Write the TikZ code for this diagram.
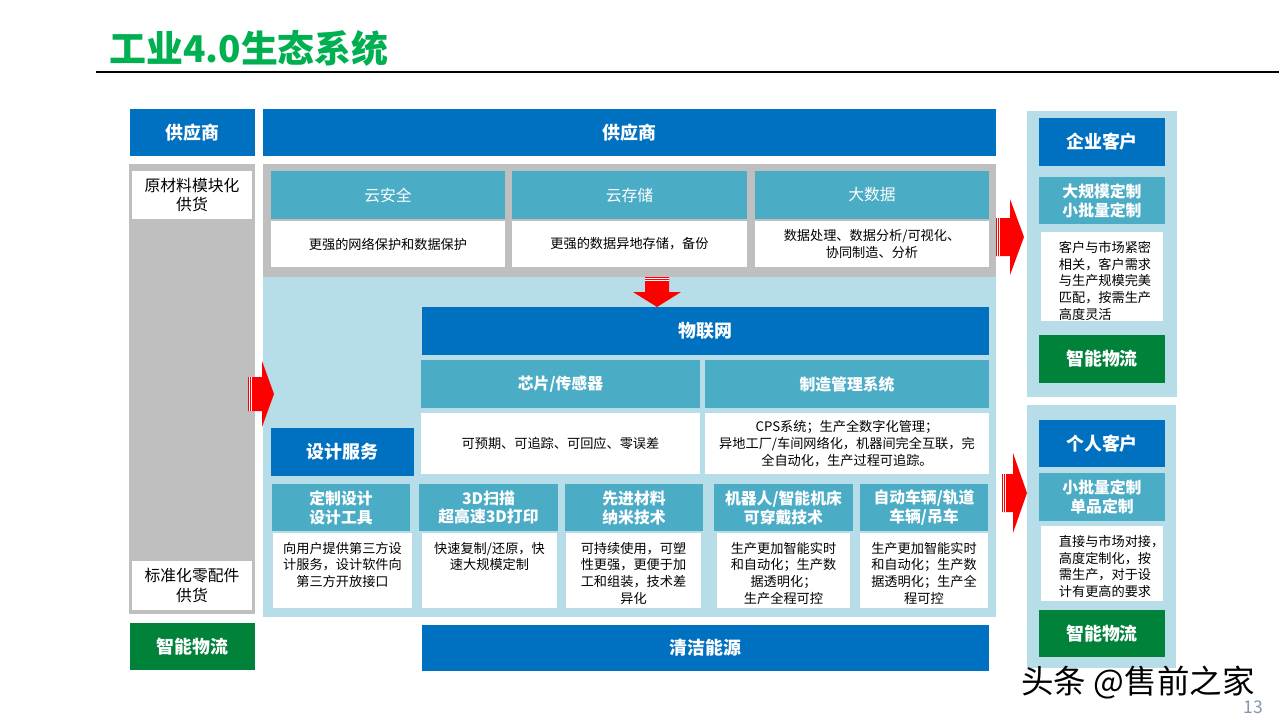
\documentclass[tikz,border=0pt]{standalone}
\usepackage{fontspec}
\setmainfont{Noto Sans CJK SC}
\usetikzlibrary{positioning}

\definecolor{ppblue}{HTML}{0070C0}
\definecolor{ppteal}{HTML}{4BACC6}
\definecolor{pplight}{HTML}{B7DDE8}
\definecolor{ppgray}{HTML}{BFBFBF}
\definecolor{ppgreen}{HTML}{00823B}
\definecolor{titlegreen}{HTML}{00B050}
\definecolor{pagegray}{HTML}{8497B0}

\tikzset{
  wh/.style 2 args={minimum width=#1*0.02cm, minimum height=#2*0.02cm},
  cell/.style={inner sep=0pt, outer sep=0pt, align=center},
  bluebox/.style={cell, fill=ppblue, text=white, font=\fontsize{10.2}{12}\selectfont\bfseries},
  greenbox/.style={cell, fill=ppgreen, text=white, font=\fontsize{10.2}{12}\selectfont\bfseries},
  tealbox/.style={cell, fill=ppteal, text=white, font=\fontsize{9}{10.8}\selectfont\bfseries},
  cloudbox/.style={cell, fill=ppteal, text=white, font=\fontsize{9}{10.8}\selectfont},
  whitebox/.style={cell, fill=white, font=\fontsize{7.5}{9.5}\selectfont},
  panel/.style={cell, fill=#1},
  note/.style={inner sep=0pt, align=center, font=\fontsize{7.5}{9.5}\selectfont},
  stripe/.style={draw=white, line width=0.3pt},
}

\begin{document}
\begin{tikzpicture}[x=0.02cm,y=-0.02cm]
    \useasboundingbox (0,0) rectangle (1279,720);
    % title
    \node[anchor=west, inner sep=0pt, text=titlegreen,
        font=\fontsize{21}{24}\selectfont\bfseries] (title) at (109,48) {工业4.0生态系统};
    \draw[line width=0.8pt] (96,72) -- (1279,72);
    %% suppliers column
    \node[bluebox, wh={125}{47}] (supL) at (192.5,132.5) {供应商};
    \node[panel=ppgray, wh={126}{450}] (leftcol) at (192,389) {};
    \node[whitebox, font=\fontsize{9}{11.3}\selectfont, wh={120}{48}] (raw) at (192,195) {原材料模块化\\供货};
    \node[whitebox, font=\fontsize{9}{11.3}\selectfont, wh={120}{49}] (std) at (192,585.5) {标准化零配件\\供货};
    \node[greenbox, wh={125}{47}] (logL) at (192.5,646.5) {智能物流};
    %% cloud layer
    \node[bluebox, wh={733}{47}] (supT) at (629.5,132.5) {供应商};
    \node[panel=ppgray, wh={733}{113}] (cloud) at (629.5,220.5) {};
    \node[cloudbox, wh={234}{48}] (sec) at (388,195) {云安全};
    \node[whitebox, wh={234}{46}] (secw) at (388,244) {更强的网络保护和数据保护};
    \node[cloudbox, wh={235}{48}] (sto) at (629.5,195) {云存储};
    \node[whitebox, wh={235}{46}] (stow) at (629.5,244) {更强的数据异地存储，备份};
    \node[cloudbox, wh={234}{48}] (big) at (872,195) {大数据};
    \node[whitebox, wh={234}{46}] (bigw) at (872,244) {数据处理、数据分析/可视化、\\协同制造、分析};
    %% platform
    \node[panel=pplight, wh={733}{340}] (plat) at (629.5,447) {};
    \node[bluebox, wh={567}{48}] (iot) at (705.5,331) {物联网};
    \node[tealbox, wh={279}{48}] (chip) at (560.5,384) {芯片/传感器};
    \node[whitebox, wh={279}{61}] (chipw) at (560.5,443.5) {可预期、可追踪、可回应、零误差};
    \node[tealbox, wh={284}{48}] (mes) at (847,384) {制造管理系统};
    \node[whitebox, wh={284}{61}] (mesw) at (847,443.5) {CPS系统；生产全数字化管理；\\异地工厂/车间网络化，机器间完全互联，完\\全自动化，生产过程可追踪。};
    \node[bluebox, wh={143}{48}] (design) at (342.5,452) {设计服务};
    %% technologies
    \node[tealbox, wh={138}{47}] (cd) at (341,507.5) {定制设计\\设计工具};
    \node[whitebox, wh={139}{75}] (cdw) at (342.5,570.5) {};
    \node[note, anchor=north] at ([yshift=-5]cdw.north) {向用户提供第三方设\\计服务，设计软件向\\第三方开放接口};
    \node[tealbox, wh={139}{47}] (scan) at (488.5,507.5) {3D扫描\\超高速3D打印};
    \node[whitebox, wh={135}{75}] (scanw) at (489.5,570.5) {};
    \node[note, anchor=north] at ([yshift=-5]scanw.north) {快速复制/还原，快\\速大规模定制};
    \node[tealbox, wh={138}{47}] (mat) at (634,507.5) {先进材料\\纳米技术};
    \node[whitebox, wh={135}{75}] (matw) at (633.5,570.5) {};
    \node[note, anchor=north] at ([yshift=-5]matw.north) {可持续使用，可塑\\性更强，更便于加\\工和组装，技术差\\异化};
    \node[tealbox, wh={139}{47}] (rob) at (783.5,507.5) {机器人/智能机床\\可穿戴技术};
    \node[whitebox, wh={133}{75}] (robw) at (783.5,570.5) {};
    \node[note, anchor=north] at ([yshift=-5]robw.north) {生产更加智能实时\\和自动化；生产数\\据透明化；\\生产全程可控};
    \node[tealbox, wh={128}{47}] (veh) at (924,507.5) {自动车辆/轨道\\车辆/吊车};
    \node[whitebox, wh={128}{75}] (vehw) at (924,570.5) {};
    \node[note, anchor=north] at ([yshift=-5]vehw.north) {生产更加智能实时\\和自动化；生产数\\据透明化；生产全\\程可控};
    \node[bluebox, wh={567}{46}] (clean) at (705.5,648) {清洁能源};
    %% customers
    \node[panel=pplight, wh={150}{286}] (entp) at (1102,254) {};
    \node[bluebox, wh={126}{48}] (ent) at (1102,142) {企业客户};
    \node[tealbox, wh={126}{47}] (entm) at (1102,200.5) {大规模定制\\小批量定制};
    \node[whitebox, wh={122}{89}] (entw) at (1102,276.5) {};
    \node[note, align=left, anchor=north west] at ([xshift=10,yshift=-5]entw.north west) {客户与市场紧密\\相关，客户需求\\与生产规模完美\\匹配，按需生产\\高度灵活};
    \node[greenbox, wh={126}{48}] (entl) at (1102,359) {智能物流};
    \node[panel=pplight, wh={149}{263}] (perp) at (1101.5,536.5) {};
    \node[bluebox, wh={126}{47}] (per) at (1102,443.5) {个人客户};
    \node[tealbox, wh={126}{48}] (perm) at (1102,497) {小批量定制\\单品定制};
    \node[whitebox, wh={122}{75}] (perw) at (1102,563.5) {};
    \node[note, align=left, anchor=north west] at ([xshift=10,yshift=-5]perw.north west) {直接与市场对接，\\高度定制化，按\\需生产，对于设\\计有更高的要求};
    \node[greenbox, wh={126}{47}] (perl) at (1102,633.5) {智能物流};
    %% red arrows
    \fill[red] (248,377) -- (262,377) -- (262,361) -- (274,394) -- (262,427) -- (262,411) -- (248,411) -- cycle;
    \foreach \x in {249.4,251.6} \draw[stripe] (\x,377) -- (\x,411);
    \fill[red] (645,277) -- (669,277) -- (669,292) -- (681,292) -- (657,307) -- (633,292) -- (645,292) -- cycle;
    \foreach \y in {278.4,280.6} \draw[stripe] (645,\y) -- (669,\y);
    \fill[red] (996,218) -- (1010,218) -- (1010,199) -- (1024,237) -- (1010,275) -- (1010,256) -- (996,256) -- cycle;
    \foreach \x in {997.4,999.6} \draw[stripe] (\x,218) -- (\x,256);
    \fill[red] (1002,474) -- (1013,474) -- (1013,453) -- (1027,493) -- (1013,533) -- (1013,512) -- (1002,512) -- cycle;
    \foreach \x in {1003.4,1005.6} \draw[stripe] (\x,474) -- (\x,512);
    % watermark and page number
    \node[inner sep=0pt, font=\fontsize{18.5}{20}\selectfont] (mark) at (1138,683) {头条 @售前之家};
    \node[inner sep=0pt, text=pagegray, font=\fontsize{10}{12}\selectfont] (page) at (1253,707) {13};
\end{tikzpicture}
\end{document}
